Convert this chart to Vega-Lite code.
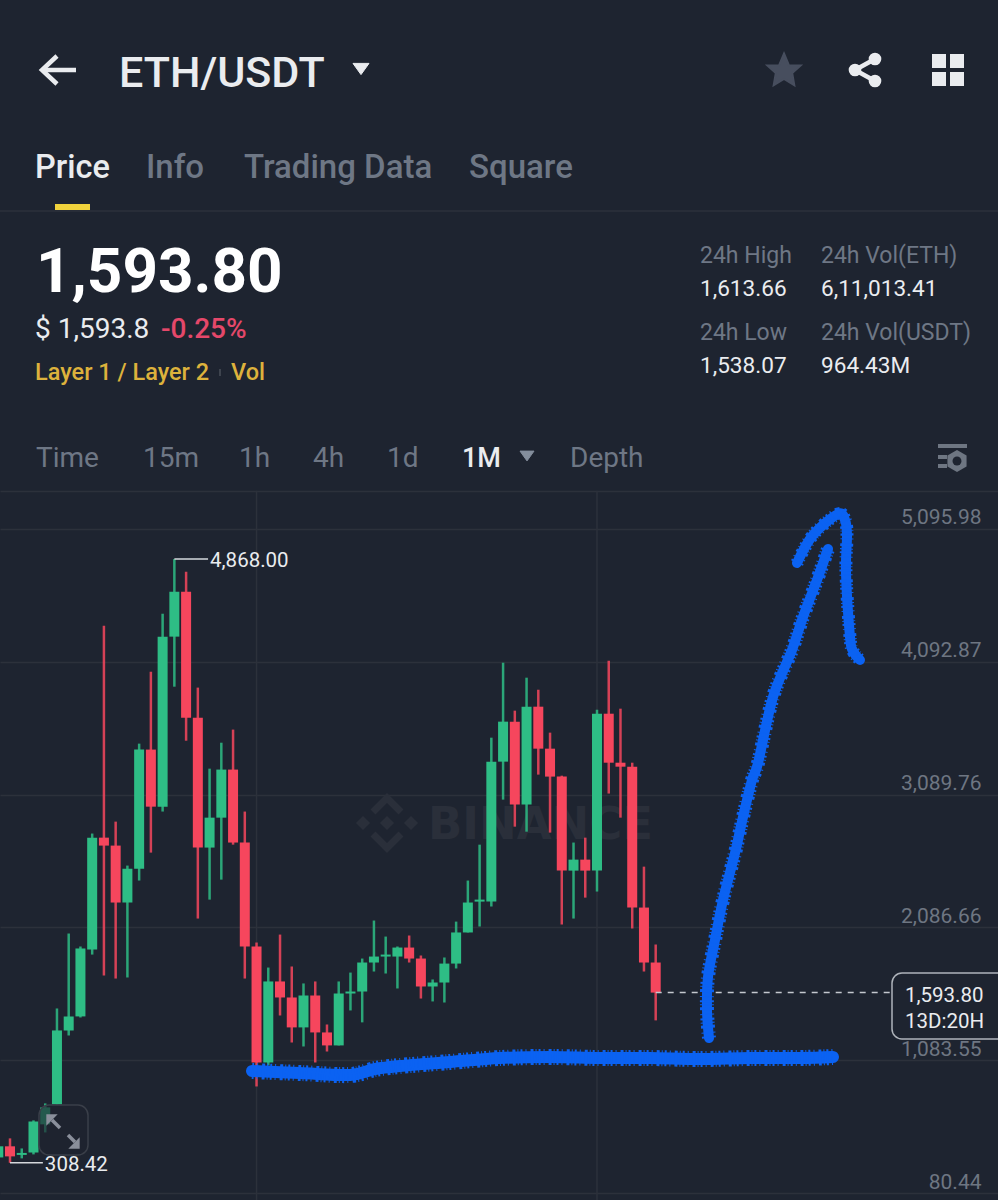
{"$schema":"https://vega.github.io/schema/vega-lite/v6.json","width":998,"height":1200,"padding":0,"autosize":{"type":"none"},"background":"#1E2430","config":{"view":{"stroke":null},"text":{"font":"Roboto","baseline":"alphabetic","align":"left"}},"resolve":{"scale":{"x":"independent","y":"independent"}},
"datasets":{"base":[{"seq":1,"col":252,"line":1071},{"seq":2,"col":300,"line":1073},{"seq":3,"col":350,"line":1075},{"seq":4,"col":375,"line":1069},{"seq":5,"col":400,"line":1066},{"seq":6,"col":450,"line":1062},{"seq":7,"col":500,"line":1058},{"seq":8,"col":550,"line":1057},{"seq":9,"col":600,"line":1058},{"seq":10,"col":650,"line":1058},{"seq":11,"col":700,"line":1059},{"seq":12,"col":750,"line":1058},{"seq":13,"col":800,"line":1058},{"seq":14,"col":833,"line":1057}],
"shaft":[{"seq":1,"col":709,"line":1038},{"seq":2,"col":707,"line":1010},{"seq":3,"col":708,"line":977},{"seq":4,"col":715,"line":940},{"seq":5,"col":723,"line":900},{"seq":6,"col":735,"line":853},{"seq":7,"col":743,"line":817},{"seq":8,"col":752,"line":780},{"seq":9,"col":758,"line":763},{"seq":10,"col":773,"line":697},{"seq":11,"col":792,"line":650},{"seq":12,"col":803,"line":617},{"seq":13,"col":817,"line":580},{"seq":14,"col":828,"line":549}],
"head":[{"seq":1,"col":797,"line":563},{"seq":2,"col":813,"line":535},{"seq":3,"col":838,"line":514},{"seq":4,"col":845,"line":520},{"seq":5,"col":847,"line":535},{"seq":6,"col":846,"line":573},{"seq":7,"col":850,"line":637},{"seq":8,"col":853,"line":651},{"seq":9,"col":860,"line":660}],
"candles":[
{"i":0,"dir":"up","open":349,"high":448,"low":334,"close":433},
{"i":1,"dir":"down","open":433,"high":493,"low":308.42,"close":357},
{"i":2,"dir":"up","open":368,"high":417,"low":342,"close":383},
{"i":3,"dir":"up","open":387,"high":629,"low":372,"close":621},
{"i":4,"dir":"up","open":599,"high":757,"low":538,"close":727},
{"i":5,"dir":"up","open":750,"high":1474,"low":750,"close":1308},
{"i":6,"dir":"up","open":1308,"high":2040,"low":1270,"close":1414},
{"i":7,"dir":"up","open":1414,"high":1942,"low":1406,"close":1927},
{"i":8,"dir":"up","open":1919,"high":2795,"low":1881,"close":2764},
{"i":9,"dir":"down","open":2764,"high":4365,"low":1723,"close":2704},
{"i":10,"dir":"down","open":2704,"high":2885,"low":1700,"close":2274},
{"i":11,"dir":"up","open":2274,"high":2553,"low":1708,"close":2530},
{"i":12,"dir":"up","open":2530,"high":3474,"low":2440,"close":3429},
{"i":13,"dir":"down","open":3429,"high":4017,"low":2651,"close":2998},
{"i":14,"dir":"up","open":2998,"high":4455,"low":2961,"close":4282},
{"i":15,"dir":"up","open":4282,"high":4868,"low":3904,"close":4621},
{"i":16,"dir":"down","open":4621,"high":4772,"low":3496,"close":3670},
{"i":17,"dir":"down","open":3670,"high":3897,"low":2153,"close":2689},
{"i":18,"dir":"up","open":2689,"high":3285,"low":2296,"close":2915},
{"i":19,"dir":"up","open":2915,"high":3481,"low":2447,"close":3278},
{"i":20,"dir":"down","open":3278,"high":3580,"low":2711,"close":2727},
{"i":21,"dir":"down","open":2727,"high":2961,"low":1700,"close":1942},
{"i":22,"dir":"down","open":1942,"high":1972,"low":885,"close":1066},
{"i":23,"dir":"up","open":1066,"high":1783,"low":1044,"close":1678},
{"i":24,"dir":"down","open":1678,"high":2032,"low":1421,"close":1557},
{"i":25,"dir":"down","open":1557,"high":1791,"low":1217,"close":1331},
{"i":26,"dir":"up","open":1331,"high":1663,"low":1187,"close":1572},
{"i":27,"dir":"down","open":1572,"high":1678,"low":1066,"close":1293},
{"i":28,"dir":"down","open":1293,"high":1353,"low":1149,"close":1195},
{"i":29,"dir":"up","open":1195,"high":1678,"low":1195,"close":1587},
{"i":30,"dir":"up","open":1587,"high":1745,"low":1459,"close":1602},
{"i":31,"dir":"up","open":1602,"high":1851,"low":1369,"close":1821},
{"i":32,"dir":"up","open":1821,"high":2138,"low":1753,"close":1866},
{"i":33,"dir":"up","open":1866,"high":2017,"low":1738,"close":1881},
{"i":34,"dir":"up","open":1866,"high":1942,"low":1625,"close":1934},
{"i":35,"dir":"down","open":1934,"high":2025,"low":1821,"close":1851},
{"i":36,"dir":"down","open":1851,"high":1874,"low":1549,"close":1640},
{"i":37,"dir":"up","open":1640,"high":1693,"low":1527,"close":1670},
{"i":38,"dir":"up","open":1670,"high":1859,"low":1519,"close":1813},
{"i":39,"dir":"up","open":1813,"high":2130,"low":1776,"close":2048},
{"i":40,"dir":"up","open":2048,"high":2440,"low":2048,"close":2274},
{"i":41,"dir":"up","open":2281,"high":2711,"low":2093,"close":2296},
{"i":42,"dir":"up","open":2281,"high":3519,"low":2244,"close":3338},
{"i":43,"dir":"up","open":3338,"high":4085,"low":3051,"close":3640},
{"i":44,"dir":"down","open":3640,"high":3723,"low":2847,"close":3014},
{"i":45,"dir":"up","open":3014,"high":3972,"low":2809,"close":3753},
{"i":46,"dir":"down","open":3753,"high":3881,"low":3240,"close":3436},
{"i":47,"dir":"down","open":3436,"high":3557,"low":2802,"close":3225},
{"i":48,"dir":"down","open":3225,"high":3232,"low":2108,"close":2515},
{"i":49,"dir":"up","open":2515,"high":2727,"low":2153,"close":2598},
{"i":50,"dir":"down","open":2598,"high":2764,"low":2311,"close":2515},
{"i":51,"dir":"up","open":2515,"high":3730,"low":2357,"close":3700},
{"i":52,"dir":"down","open":3700,"high":4100,"low":3097,"close":3330},
{"i":53,"dir":"down","open":3330,"high":3738,"low":2915,"close":3300},
{"i":54,"dir":"down","open":3300,"high":3330,"low":2078,"close":2236},
{"i":55,"dir":"down","open":2236,"high":2545,"low":1753,"close":1821},
{"i":56,"dir":"down","open":1821,"high":1957,"low":1384,"close":1593.8}
]},
"layer":[
{"encoding":{"x":{"field":"col","type":"quantitative","scale":{"domain":[0,998],"nice":false,"zero":false,"padding":0},"axis":null},"y":{"field":"line","type":"quantitative","scale":{"domain":[0,1200],"reverse":true,"nice":false,"zero":false,"padding":0},"axis":null}},
"layer":[
{"data":{"values":[{"label":"BINANCE","col":428,"line":839}]},"mark":{"type":"text","fontSize":45,"fontWeight":"bold","color":"#2A2F3A","font":"DejaVu Sans"},"encoding":{"text":{"field":"label"}}},
{"data":{"values":[{"seg":"a","seq":1,"col":373,"line":812},{"seg":"a","seq":2,"col":387,"line":798},{"seg":"a","seq":3,"col":401,"line":812},{"seg":"b","seq":1,"col":373,"line":834},{"seg":"b","seq":2,"col":387,"line":848},{"seg":"b","seq":3,"col":401,"line":834}]},"mark":{"type":"line","color":"#2A2F3A","strokeWidth":7},"encoding":{"detail":{"field":"seg"},"order":{"field":"seq"}}},
{"data":{"values":[{"col":363,"line":823},{"col":387,"line":823},{"col":411,"line":823}]},"mark":{"type":"point","shape":"diamond","filled":true,"opacity":1,"color":"#2A2F3A","size":200}}
]},
{"layer":[
{"data":{"values":[{"i":22},{"i":51}]},"mark":{"type":"rule","color":"#2C313B","strokeWidth":1.5},"encoding":{"x":{"field":"i","type":"quantitative","scale":{"domain":[0.148,85.157],"nice":false,"zero":false,"padding":0},"axis":null},"y":{"datum":5384,"type":"quantitative","scale":{"domain":[27.6,9089.7],"nice":false,"zero":false,"padding":0},"axis":{"orient":"right","values":[80.44,1083.55,2086.66,3089.76,4092.87,5095.98,5384],"format":",.2f","labelExpr":"datum.value>5300?'':datum.label","title":null,"domain":false,"ticks":false,"grid":true,"gridColor":"#2C313B","gridWidth":1.5,"labelColor":"#6E7682","labelFont":"Roboto","labelFontSize":21,"labelAlign":"right","labelBaseline":"alphabetic","labelPadding":-17,"labelOffset":-5,"labelOverlap":false,"labelBound":false,"labelFlush":false}},"y2":{"datum":27.6}}},
{"data":{"name":"candles"},"mark":{"type":"rule","strokeWidth":2.5,"opacity":0.85,"clip":true},"encoding":{"x":{"field":"i","type":"quantitative","scale":{"domain":[0.148,85.157],"nice":false,"zero":false,"padding":0},"axis":null},"y":{"field":"high","type":"quantitative","scale":{"domain":[27.6,9089.7],"nice":false,"zero":false,"padding":0}},"y2":{"field":"low"},"color":{"field":"dir","type":"nominal","scale":{"domain":["up","down"],"range":["#2EBD85","#F6465D"]},"legend":null}}},
{"data":{"name":"candles"},"mark":{"type":"bar","width":10,"clip":true},"encoding":{"x":{"field":"i","type":"quantitative","scale":{"domain":[0.148,85.157],"nice":false,"zero":false,"padding":0},"axis":null},"y":{"field":"open","type":"quantitative","scale":{"domain":[27.6,9089.7],"nice":false,"zero":false,"padding":0}},"y2":{"field":"close"},"color":{"field":"dir","type":"nominal","scale":{"domain":["up","down"],"range":["#2EBD85","#F6465D"]},"legend":null}}},
{"data":{"values":[{"i":15,"i2":17.87,"price":4868},{"i":1,"i2":3.8,"price":308.42}]},"mark":{"type":"rule","color":"#D5D8DC","strokeWidth":1.5},"encoding":{"x":{"field":"i","type":"quantitative","scale":{"domain":[0.148,85.157],"nice":false,"zero":false,"padding":0},"axis":null},"x2":{"field":"i2"},"y":{"field":"price","type":"quantitative","scale":{"domain":[27.6,9089.7],"nice":false,"zero":false,"padding":0}}}},
{"data":{"values":[{"i":56,"i2":76.13,"price":1593.8}]},"mark":{"type":"rule","color":"#C4C8CE","strokeWidth":1.5,"strokeDash":[6,6]},"encoding":{"x":{"field":"i","type":"quantitative","scale":{"domain":[0.148,85.157],"nice":false,"zero":false,"padding":0},"axis":null},"x2":{"field":"i2"},"y":{"field":"price","type":"quantitative","scale":{"domain":[27.6,9089.7],"nice":false,"zero":false,"padding":0}}}},
{"data":{"values":[{"i2":17.87,"price":4868,"label":"4,868.00"},{"i2":3.8,"price":308.42,"label":"308.42"}]},"mark":{"type":"text","color":"#EAECEF","fontSize":20.5,"baseline":"middle","dx":2,"dy":2},"encoding":{"x":{"field":"i2","type":"quantitative","scale":{"domain":[0.148,85.157],"nice":false,"zero":false,"padding":0},"axis":null},"y":{"field":"price","type":"quantitative","scale":{"domain":[27.6,9089.7],"nice":false,"zero":false,"padding":0}},"text":{"field":"label"}}}
]},
{"encoding":{"x":{"field":"col","type":"quantitative","scale":{"domain":[0,998],"nice":false,"zero":false,"padding":0},"axis":null},"y":{"field":"line","type":"quantitative","scale":{"domain":[0,1200],"reverse":true,"nice":false,"zero":false,"padding":0},"axis":null}},
"layer":[
{"data":{"values":[{"col":0,"col2":998,"line":211}]},"mark":{"type":"rule","color":"#2C313B","strokeWidth":1.5},"encoding":{"x2":{"field":"col2"}}},
{"data":{"values":[{"col":55,"col2":90,"line":204,"line2":210}]},"mark":{"type":"rect","color":"#F0D23C"},"encoding":{"x2":{"field":"col2"},"y2":{"field":"line2"}}},
{"data":{"values":[{"col":892,"col2":1010,"line":973,"line2":1039}]},"mark":{"type":"rect","fill":"#1E2430","stroke":"#AEB3BA","strokeWidth":1.5,"cornerRadius":10,"clip":true},"encoding":{"x2":{"field":"col2"},"y2":{"field":"line2"}}},
{"data":{"values":[{"col":39,"col2":88,"line":1105,"line2":1155}]},"mark":{"type":"rect","fill":"#1E2430","fillOpacity":0.65,"stroke":"#3A3F49","strokeWidth":1.5,"cornerRadius":10},"encoding":{"x2":{"field":"col2"},"y2":{"field":"line2"}}},
{"data":{"values":[{"seg":"a","seq":1,"col":52,"line":1120},{"seg":"a","seq":2,"col":60,"line":1128},{"seg":"b","seq":1,"col":68,"line":1135},{"seg":"b","seq":2,"col":75,"line":1142}]},"mark":{"type":"line","color":"#8A8F9B","strokeWidth":3.5},"encoding":{"detail":{"field":"seg"},"order":{"field":"seq"}}},
{"data":{"values":[{"col":52,"line":1120}]},"mark":{"type":"point","shape":"M-1,-1 L1,-1 L-1,1 Z","filled":true,"opacity":1,"color":"#8A8F9B","size":130}},
{"data":{"values":[{"col":74,"line":1143}]},"mark":{"type":"point","shape":"M1,1 L-1,1 L1,-1 Z","filled":true,"opacity":1,"color":"#8A8F9B","size":130}},
{"data":{"values":[{"seg":"shaft","seq":1,"col":76,"line":70},{"seg":"shaft","seq":2,"col":43,"line":70},{"seg":"head","seq":1,"col":57,"line":56},{"seg":"head","seq":2,"col":42,"line":70},{"seg":"head","seq":3,"col":57,"line":84}]},"mark":{"type":"line","color":"#EAECEF","strokeWidth":4.5},"encoding":{"detail":{"field":"seg"},"order":{"field":"seq"}}},
{"data":{"values":[{"seq":1,"col":875,"line":59},{"seq":2,"col":855,"line":70},{"seq":3,"col":875,"line":81}]},"mark":{"type":"line","color":"#EAECEF","strokeWidth":4.5},"encoding":{"order":{"field":"seq"}}},
{"data":{"values":[{"col":875,"line":59},{"col":855,"line":70},{"col":875,"line":81}]},"mark":{"type":"point","shape":"circle","filled":true,"opacity":1,"color":"#EAECEF","size":160}},
{"data":{"values":[{"col":939,"line":61},{"col":957,"line":61},{"col":939,"line":79},{"col":957,"line":79}]},"mark":{"type":"point","shape":"square","filled":true,"opacity":1,"color":"#EAECEF","size":196}},
{"data":{"values":[{"col":784,"line":71}]},"mark":{"type":"point","shape":"M0,-1 L0.29,-0.31 L0.95,-0.31 L0.47,0.12 L0.59,0.81 L0,0.45 L-0.59,0.81 L-0.47,0.12 L-0.95,-0.31 L-0.29,-0.31 Z","filled":true,"opacity":1,"color":"#474E5E","stroke":"#474E5E","strokeWidth":2,"size":1225}},
{"data":{"values":[{"col":361,"line":69}]},"mark":{"type":"point","shape":"M-1,-0.7 L1,-0.7 L0,0.7 Z","filled":true,"opacity":1,"color":"#EAECEF","stroke":"#EAECEF","strokeWidth":1,"size":256}},
{"data":{"values":[{"col":527,"line":456}]},"mark":{"type":"point","shape":"M-1,-0.7 L1,-0.7 L0,0.7 Z","filled":true,"opacity":1,"color":"#848E9C","stroke":"#848E9C","strokeWidth":1,"size":196}},
{"data":{"values":[{"seg":"a","col":938,"line":446},{"seg":"a","col":967,"line":446},{"seg":"b","col":938,"line":457},{"seg":"b","col":947,"line":457},{"seg":"c","col":938,"line":466},{"seg":"c","col":947,"line":466}]},"mark":{"type":"line","color":"#6E7682","strokeWidth":4},"encoding":{"detail":{"field":"seg"}}},
{"data":{"values":[{"col":957,"line":461}]},"mark":{"type":"point","shape":"M0,-1 L0.87,-0.5 L0.87,0.5 L0,1 L-0.87,0.5 L-0.87,-0.5 Z","filled":true,"opacity":1,"color":"#6E7682","size":484}},
{"data":{"values":[{"col":957,"line":461}]},"mark":{"type":"point","shape":"circle","filled":true,"opacity":1,"color":"#1E2430","size":80}},
{"data":{"values":[{"col":220,"line":369,"line2":376}]},"mark":{"type":"rule","color":"#4A4F59","strokeWidth":1.5},"encoding":{"y2":{"field":"line2"}}},
{"data":{"values":[{"label":"ETH/USDT","col":119,"line":87}]},"mark":{"type":"text","color":"#EAECEF","fontSize":43,"fontWeight":500},"encoding":{"text":{"field":"label"}}},
{"data":{"values":[{"label":"Price","col":35,"line":178}]},"mark":{"type":"text","color":"#EAECEF","fontSize":32.5,"fontWeight":500},"encoding":{"text":{"field":"label"}}},
{"data":{"values":[{"label":"Info","col":146,"line":178},{"label":"Trading Data","col":244,"line":178},{"label":"Square","col":469,"line":178}]},"mark":{"type":"text","color":"#6E7785","fontSize":33,"fontWeight":500},"encoding":{"text":{"field":"label"}}},
{"data":{"values":[{"label":"1,593.80","col":36,"line":292}]},"mark":{"type":"text","color":"#FFFFFF","fontSize":62,"fontWeight":"bold"},"encoding":{"text":{"field":"label"}}},
{"data":{"values":[{"label":"$ 1,593.8","col":35,"line":338}]},"mark":{"type":"text","color":"#EAECEF","fontSize":28},"encoding":{"text":{"field":"label"}}},
{"data":{"values":[{"label":"-0.25%","col":161,"line":338}]},"mark":{"type":"text","color":"#E5486A","fontSize":28,"fontWeight":500},"encoding":{"text":{"field":"label"}}},
{"data":{"values":[{"label":"Layer 1 / Layer 2","col":35,"line":380},{"label":"Vol","col":231,"line":380}]},"mark":{"type":"text","color":"#DDB23C","fontSize":23.5,"fontWeight":500},"encoding":{"text":{"field":"label"}}},
{"data":{"values":[{"label":"24h High","col":700,"line":263},{"label":"24h Vol(ETH)","col":821,"line":263},{"label":"24h Low","col":700,"line":340},{"label":"24h Vol(USDT)","col":821,"line":340}]},"mark":{"type":"text","color":"#6E7785","fontSize":23},"encoding":{"text":{"field":"label"}}},
{"data":{"values":[{"label":"1,613.66","col":700,"line":296},{"label":"6,11,013.41","col":821,"line":296},{"label":"1,538.07","col":700,"line":373},{"label":"964.43M","col":821,"line":373}]},"mark":{"type":"text","color":"#EAECEF","fontSize":22.6},"encoding":{"text":{"field":"label"}}},
{"data":{"values":[{"label":"Time","col":36,"line":467},{"label":"15m","col":143,"line":467},{"label":"1h","col":239,"line":467},{"label":"4h","col":313,"line":467},{"label":"1d","col":387,"line":467},{"label":"Depth","col":570,"line":467}]},"mark":{"type":"text","color":"#6E7785","fontSize":28},"encoding":{"text":{"field":"label"}}},
{"data":{"values":[{"label":"1M","col":462,"line":467}]},"mark":{"type":"text","color":"#EAECEF","fontSize":27,"fontWeight":500},"encoding":{"text":{"field":"label"}}},
{"data":{"values":[{"label":"1,593.80","col":905,"line":1002},{"label":"13D:20H","col":905,"line":1028}]},"mark":{"type":"text","color":"#EAECEF","fontSize":20.5},"encoding":{"text":{"field":"label"}}},
{"data":{"name":"base"},"mark":{"type":"line","color":"#0B62F2","strokeWidth":12,"strokeCap":"round","strokeJoin":"round","interpolate":"cardinal"},"encoding":{"order":{"field":"seq"}}},
{"data":{"name":"base"},"mark":{"type":"line","color":"#0B62F2","strokeWidth":16,"strokeDash":[2,3,1,4,3,2,1,2],"interpolate":"cardinal"},"encoding":{"order":{"field":"seq"}}},
{"data":{"name":"shaft"},"mark":{"type":"line","color":"#0B62F2","strokeWidth":10,"strokeCap":"round","strokeJoin":"round","interpolate":"cardinal"},"encoding":{"order":{"field":"seq"}}},
{"data":{"name":"shaft"},"mark":{"type":"line","color":"#0B62F2","strokeWidth":14,"strokeDash":[2,3,1,4,3,2,1,2],"interpolate":"cardinal"},"encoding":{"order":{"field":"seq"}}},
{"data":{"name":"head"},"mark":{"type":"line","color":"#0B62F2","strokeWidth":10,"strokeCap":"round","strokeJoin":"round","interpolate":"cardinal"},"encoding":{"order":{"field":"seq"}}},
{"data":{"name":"head"},"mark":{"type":"line","color":"#0B62F2","strokeWidth":13,"strokeDash":[2,3,1,4,3,2,1,2],"interpolate":"cardinal"},"encoding":{"order":{"field":"seq"}}}
]}
]}
